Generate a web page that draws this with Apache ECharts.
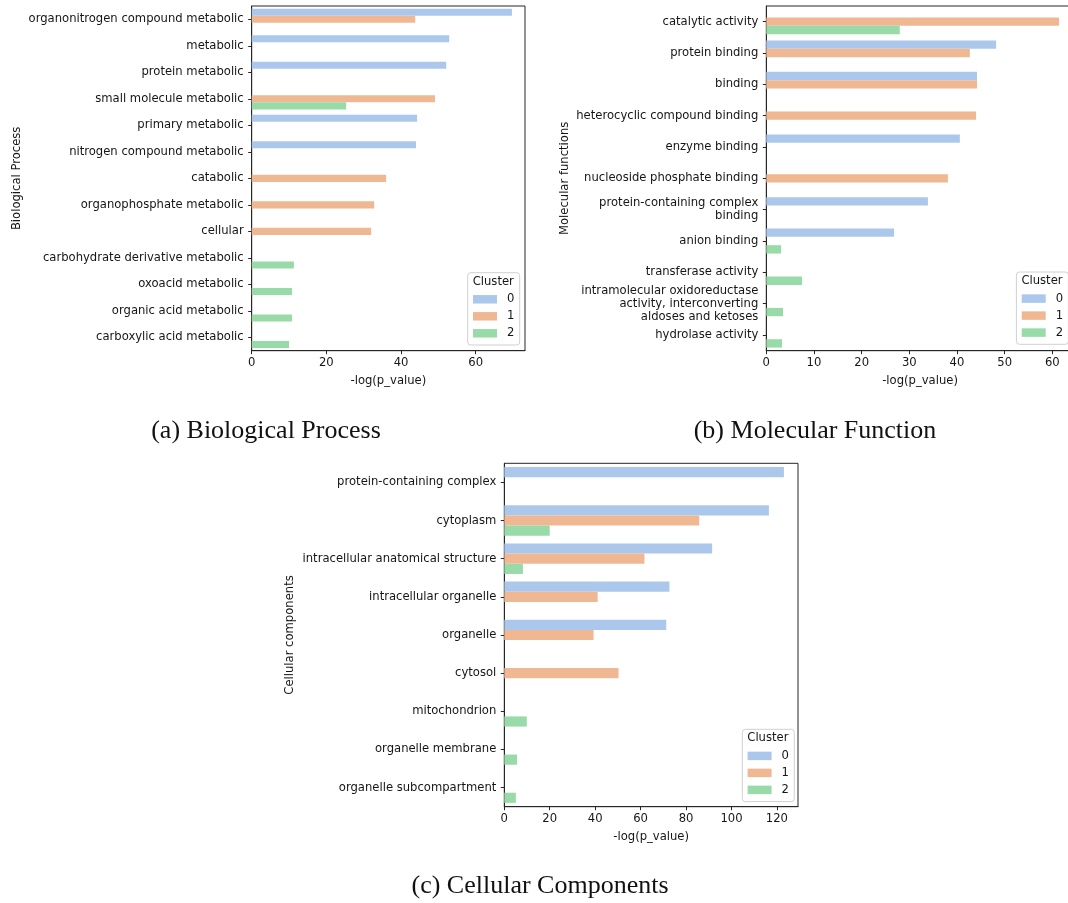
<!DOCTYPE html>
<html>
<head>
<meta charset="utf-8">
<script src="https://cdn.jsdelivr.net/npm/echarts@6/dist/echarts.min.js"></script>
<style>
html,body{margin:0;padding:0;background:#fff;}
#chart{width:1068px;height:903px;}
</style>
</head>
<body>
<div id="chart"></div>
<script>
// ---------- data ----------
const clusterNames = ['0', '1', '2'];

const bpCategories = ['organonitrogen compound metabolic', 'metabolic', 'protein metabolic', 'small molecule metabolic', 'primary metabolic', 'nitrogen compound metabolic', 'catabolic', 'organophosphate metabolic', 'cellular', 'carbohydrate derivative metabolic', 'oxoacid metabolic', 'organic acid metabolic', 'carboxylic acid metabolic'];
const bpCluster0 = [69.7, 52.9, 52.1, null, 44.3, 44.0, null, null, null, null, null, null, null];
const bpCluster1 = [43.8, null, null, 49.1, null, null, 36.0, 32.8, 32.0, null, null, null, null];
const bpCluster2 = [null, null, null, 25.3, null, null, null, null, null, 11.3, 10.8, 10.8, 10.0];

const mfCategories = ['catalytic activity', 'protein binding', 'binding', 'heterocyclic compound binding', 'enzyme binding', 'nucleoside phosphate binding', 'protein-containing complex\nbinding', 'anion binding', 'transferase activity', 'intramolecular oxidoreductase\nactivity, interconverting\naldoses and ketoses', 'hydrolase activity'];
const mfCluster0 = [null, 48.2, 44.2, null, 40.6, null, 33.9, 26.8, null, null, null];
const mfCluster1 = [61.4, 42.7, 44.2, 44.0, null, 38.1, null, null, null, null, null];
const mfCluster2 = [28.0, null, null, null, null, null, null, 3.1, 7.5, 3.5, 3.3];

const ccCategories = ['protein-containing complex', 'cytoplasm', 'intracellular anatomical structure', 'intracellular organelle', 'organelle', 'cytosol', 'mitochondrion', 'organelle membrane', 'organelle subcompartment'];
const ccCluster0 = [123.1, 116.5, 91.5, 72.7, 71.3, null, null, null, null];
const ccCluster1 = [null, 85.8, 61.7, 41.1, 39.3, 50.3, null, null, null];
const ccCluster2 = [null, 20.0, 8.2, null, null, null, 9.9, 5.6, 5.1];

const xTickInterval = [20, 10, 20];
const xAxisMax = [73.2, 64.5, 129.3];
const xAxisName = '-log(p_value)';
const yAxisNames = ['Biological Process', 'Molecular functions', 'Cellular components'];
const captions = ['(a) Biological Process', '(b) Molecular Function', '(c) Cellular Components'];
const legendTitle = 'Cluster';

// ---------- styling / layout ----------
const colors = ['#abc8ec', '#f0b892', '#99dba8'];
const FONT = 'DejaVu Sans';
const TXT = '#151515';
const FS = 11.6;

const grids = [
  { left: 251.7, top: 6, width: 273.3, height: 344.7 },
  { left: 766.3, top: 6, width: 307.5, height: 344.7 },
  { left: 504.3, top: 463.3, width: 293.7, height: 343.4 }
];
const nameGaps = [229, 195, 208];
const legendPos = [
  { left: 467.7, top: 272.7 },
  { left: 1016.4, top: 272.0 },
  { left: 742.3, top: 729.3 }
];
const captionPos = [[266, 431], [815, 431], [540, 886]];

const panels = [
  { cats: bpCategories, vals: [bpCluster0, bpCluster1, bpCluster2] },
  { cats: mfCategories, vals: [mfCluster0, mfCluster1, mfCluster2] },
  { cats: ccCategories, vals: [ccCluster0, ccCluster1, ccCluster2] }
];

const option = {
  animation: false,
  backgroundColor: '#fff',
  textStyle: { fontFamily: FONT },
  grid: grids.map(g => Object.assign({ show: true, borderColor: '#262626', borderWidth: 1, backgroundColor: 'transparent', outerBoundsMode: 'none', containLabel: false }, g)),
  xAxis: panels.map((p, i) => ({
    type: 'value', gridIndex: i, min: 0, max: xAxisMax[i], interval: xTickInterval[i],
    name: xAxisName, nameLocation: 'middle', nameGap: 24,
    nameTextStyle: { fontFamily: FONT, fontSize: FS, color: TXT },
    axisLine: { show: true, lineStyle: { color: '#262626', width: 1 } },
    axisTick: { show: true, length: 3.5, lineStyle: { color: '#262626' } },
    axisLabel: { show: true, fontFamily: FONT, fontSize: FS, color: TXT, margin: 6, showMaxLabel: false },
    splitLine: { show: false }
  })),
  yAxis: panels.map((p, i) => ({
    type: 'category', gridIndex: i, inverse: true, data: p.cats,
    name: yAxisNames[i], nameLocation: 'middle', nameGap: nameGaps[i], nameRotate: 90,
    nameTextStyle: { fontFamily: FONT, fontSize: FS, color: TXT },
    axisLine: { show: true, lineStyle: { color: '#262626', width: 1 } },
    axisTick: { show: true, length: 3.5, alignWithLabel: true, lineStyle: { color: '#262626' } },
    axisLabel: { interval: 0, fontFamily: FONT, fontSize: FS, color: TXT, margin: 8, lineHeight: 13, align: 'right', padding: [3, 0, 0, 0] },
    splitLine: { show: false }
  })),
  legend: panels.map((p, i) => ({
    data: clusterNames,
    orient: 'vertical',
    left: legendPos[i].left, top: legendPos[i].top,
    padding: [19.6, 5.3, 4.7, 5.3],
    itemWidth: 24, itemHeight: 8.5, itemGap: 3,
    icon: 'rect',
    backgroundColor: 'rgba(255,255,255,0.85)',
    borderColor: '#d0d0d0', borderWidth: 1, borderRadius: 3,
    textStyle: { fontFamily: FONT, fontSize: FS, color: TXT, lineHeight: 14, padding: [0, 0, 0, 5] },
    selectedMode: false
  })),
  graphic: [].concat(
    legendPos.map(lp => ({
      type: 'text', z: 100, x: lp.left + 5, y: lp.top + 9,
      style: { text: legendTitle, font: FS + 'px "' + FONT + '"', fill: TXT, align: 'left', verticalAlign: 'middle' }
    })),
    captions.map((c, i) => ({
      type: 'text', z: 100, x: captionPos[i][0], y: captionPos[i][1],
      style: { text: c, font: '26px "Liberation Serif"', fill: '#111', align: 'center', verticalAlign: 'middle' }
    }))
  ),
  series: []
};

panels.forEach((p, i) => {
  p.vals.forEach((v, k) => {
    option.series.push({
      type: 'bar', name: clusterNames[k], xAxisIndex: i, yAxisIndex: i,
      data: v, barGap: '0%', barCategoryGap: '20%',
      itemStyle: { color: colors[k] }
    });
  });
});

const chart = echarts.init(document.getElementById('chart'), null, { renderer: 'canvas' });
chart.setOption(option);
</script>
</body>
</html>
